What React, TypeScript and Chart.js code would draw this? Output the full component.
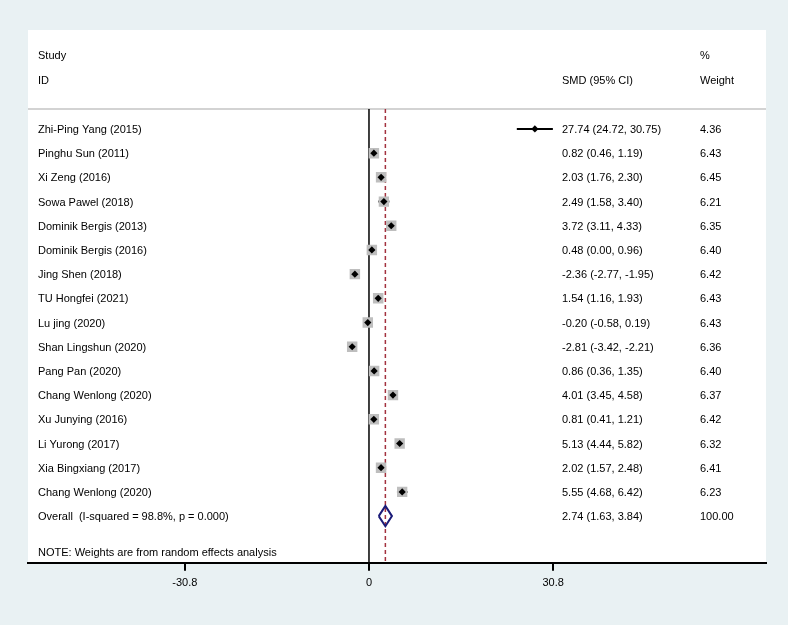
import React, { useEffect, useRef } from 'react';
import { Chart, registerables } from 'chart.js';
Chart.register(...registerables);

const studies = [
  'Zhi-Ping Yang (2015)',
  'Pinghu Sun (2011)',
  'Xi Zeng (2016)',
  'Sowa Pawel (2018)',
  'Dominik Bergis (2013)',
  'Dominik Bergis (2016)',
  'Jing Shen (2018)',
  'TU Hongfei (2021)',
  'Lu jing (2020)',
  'Shan Lingshun (2020)',
  'Pang Pan (2020)',
  'Chang Wenlong (2020)',
  'Xu Junying (2016)',
  'Li Yurong (2017)',
  'Xia Bingxiang (2017)',
  'Chang Wenlong (2020)',
];
const smd = [27.74, 0.82, 2.03, 2.49, 3.72, 0.48, -2.36, 1.54, -0.2, -2.81, 0.86, 4.01, 0.81, 5.13, 2.02, 5.55];
const lower = [24.72, 0.46, 1.76, 1.58, 3.11, 0.0, -2.77, 1.16, -0.58, -3.42, 0.36, 3.45, 0.41, 4.44, 1.57, 4.68];
const upper = [30.75, 1.19, 2.3, 3.4, 4.33, 0.96, -1.95, 1.93, 0.19, -2.21, 1.35, 4.58, 1.21, 5.82, 2.48, 6.42];
const weights = [4.36, 6.43, 6.45, 6.21, 6.35, 6.4, 6.42, 6.43, 6.43, 6.36, 6.4, 6.37, 6.42, 6.32, 6.41, 6.23];
const boxShown = [false, true, true, true, true, true, true, true, true, true, true, true, true, true, true, true];
const overall = { label: 'Overall  (I-squared = 98.8%, p = 0.000)', est: 2.74, lo: 1.63, hi: 3.84, weight: 100.0 };
const xTicks = [-30.8, 0, 30.8];
const note = 'NOTE: Weights are from random effects analysis';

const FONT = '"Liberation Sans", Arial, Helvetica, sans-serif';
const fmt = (v: number) => v.toFixed(2);

const overallRow = studies.length;

const forestPlugin = {
  id: 'forest',
  beforeDraw(chart: any) {
    const { ctx, chartArea: a, width, height } = chart;
    ctx.save();
    ctx.fillStyle = '#E9F1F3';
    ctx.fillRect(0, 0, width, height);
    ctx.fillStyle = '#ffffff';
    ctx.fillRect(a.left, a.top, a.right - a.left, a.bottom - a.top);
    ctx.restore();
  },
  beforeDatasetsDraw(chart: any) {
    const { ctx, chartArea: a } = chart;
    const xs = chart.scales.x;
    const ys = chart.scales.y;
    const yHead = ys.getPixelForValue(-0.83);
    ctx.save();
    ctx.strokeStyle = '#C4C4C4';
    ctx.lineWidth = 1.5;
    ctx.beginPath();
    ctx.moveTo(a.left, yHead);
    ctx.lineTo(a.right, yHead);
    ctx.stroke();
    const x0 = xs.getPixelForValue(0);
    ctx.strokeStyle = '#000';
    ctx.lineWidth = 1.5;
    ctx.beginPath();
    ctx.moveTo(x0, yHead);
    ctx.lineTo(x0, a.bottom);
    ctx.stroke();
    const xo = xs.getPixelForValue(overall.est);
    ctx.strokeStyle = '#A3323F';
    ctx.setLineDash([4, 3]);
    ctx.beginPath();
    ctx.moveTo(xo, yHead);
    ctx.lineTo(xo, a.bottom);
    ctx.stroke();
    ctx.restore();
  },
  afterDraw(chart: any) {
    const { ctx, chartArea: a } = chart;
    const ys = chart.scales.y;
    const xName = a.left + 10;
    const xSmd = a.left + 534;
    const xW = a.left + 672;
    ctx.save();
    ctx.fillStyle = '#000';
    ctx.font = `11px ${FONT}`;
    ctx.textBaseline = 'middle';
    ctx.textAlign = 'left';
    const dy = 1;
    ctx.fillText('Study', xName, ys.getPixelForValue(-3.05) + dy);
    ctx.fillText('ID', xName, ys.getPixelForValue(-2.02) + dy);
    ctx.fillText('SMD (95% CI)', xSmd, ys.getPixelForValue(-2.02) + dy);
    ctx.fillText('%', xW, ys.getPixelForValue(-3.05) + dy);
    ctx.fillText('Weight', xW, ys.getPixelForValue(-2.02) + dy);
    studies.forEach((s, i) => {
      const y = ys.getPixelForValue(i) + dy;
      ctx.fillText(s, xName, y);
      ctx.fillText(`${fmt(smd[i])} (${fmt(lower[i])}, ${fmt(upper[i])})`, xSmd, y);
      ctx.fillText(fmt(weights[i]), xW, y);
    });
    const yo = ys.getPixelForValue(overallRow) + dy;
    ctx.fillText(overall.label, xName, yo);
    ctx.fillText(`${fmt(overall.est)} (${fmt(overall.lo)}, ${fmt(overall.hi)})`, xSmd, yo);
    ctx.fillText(fmt(overall.weight), xW, yo);
    ctx.fillText(note, xName, ys.getPixelForValue(overallRow + 1.48) + dy);
    ctx.restore();
  },
};

export default function App() {
  const ref = useRef<HTMLCanvasElement | null>(null);
  useEffect(() => {
    if (!ref.current) return;
    const ciSets = studies.map((_, i) => ({
      type: 'scatter' as const,
      data: [
        { x: lower[i], y: i },
        { x: upper[i], y: i },
      ],
      showLine: true,
      borderColor: '#000',
      borderWidth: 2,
      pointRadius: 0,
      order: 3,
    }));
    const boxes = {
      type: 'scatter' as const,
      data: studies.map((_, i) => ({ x: smd[i], y: i })),
      pointStyle: 'rect',
      pointRadius: weights.map((w, i) => (boxShown[i] ? 7.4 * Math.sqrt(w / 6.43) : 0)),
      backgroundColor: '#BEBEBE',
      borderWidth: 0,
      order: 2,
    };
    const dots = {
      type: 'scatter' as const,
      data: studies.map((_, i) => ({ x: smd[i], y: i })),
      pointStyle: 'rectRot',
      pointRadius: 3.6,
      backgroundColor: '#000',
      borderWidth: 0,
      order: 1,
    };
    const diamond = {
      type: 'scatter' as const,
      data: [
        { x: overall.lo, y: overallRow },
        { x: overall.est, y: overallRow - 0.42 },
        { x: overall.hi, y: overallRow },
        { x: overall.est, y: overallRow + 0.42 },
        { x: overall.lo, y: overallRow },
      ],
      showLine: true,
      borderColor: '#1B1B78',
      borderWidth: 2,
      pointRadius: 0,
      order: 0,
    };
    const chart = new Chart(ref.current, {
      type: 'scatter',
      data: { datasets: [...ciSets, boxes, dots, diamond] as any },
      options: {
        animation: false,
        responsive: true,
        maintainAspectRatio: false,
        layout: { padding: { left: 28, right: 22, top: 30, bottom: 29 } },
        plugins: { legend: { display: false }, tooltip: { enabled: false } },
        scales: {
          x: {
            type: 'linear',
            min: -57.02,
            max: 66.39,
            afterBuildTicks: (scale: any) => {
              scale.ticks = xTicks.map((v) => ({ value: v }));
            },
            ticks: {
              autoSkip: false,
              maxRotation: 0,
              color: '#000',
              font: { family: FONT, size: 11 },
              padding: 6,
              callback: (v: any) => String(v),
            },
            grid: { drawOnChartArea: false, drawTicks: true, tickLength: 8, color: '#000', lineWidth: 2 },
            border: { display: true, color: '#000', width: 2 },
          },
          y: {
            type: 'linear',
            display: false,
            reverse: true,
            min: -4.09,
            max: 17.93,
          },
        },
      },
      plugins: [forestPlugin],
    });
    return () => chart.destroy();
  }, []);
  return (
    <div style={{ position: 'fixed', left: 0, top: 0, width: 788, height: 625 }}>
      <canvas ref={ref} />
    </div>
  );
}
